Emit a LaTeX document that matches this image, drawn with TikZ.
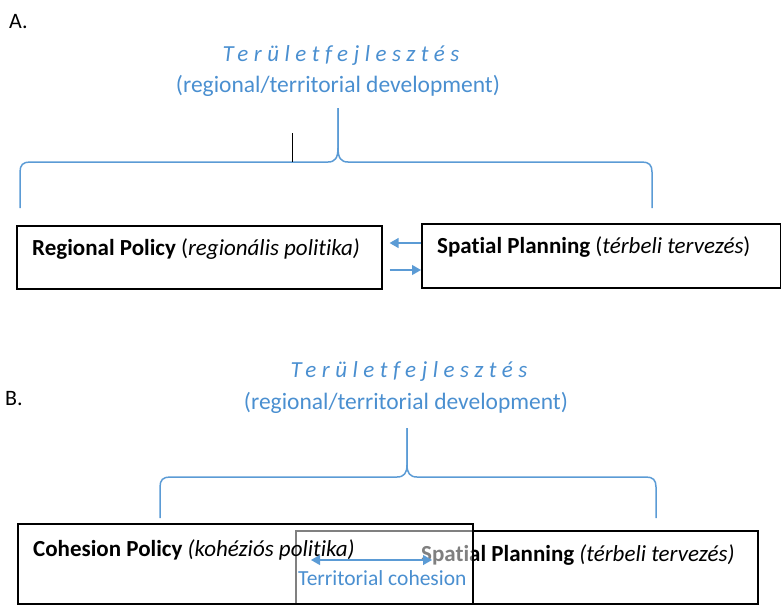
\documentclass[tikz,border=0pt]{standalone}
\usepackage{fontspec}
\setmainfont[Ligatures={NoCommon}]{Carlito}
\usetikzlibrary{arrows.meta}
\definecolor{brblue}{HTML}{5B9BD5}
\definecolor{txblue}{HTML}{4A8FD0}
\begin{document}
\begin{tikzpicture}[x=1pt,y=-1pt,
  every node/.style={font=\fontsize{23}{27}\selectfont, inner sep=0pt},
  boxst/.style={draw=black, line width=1.6pt, rectangle, anchor=north west},
  brace/.style={draw=brblue, line width=1.5pt, line join=round},
  arr/.style={draw=brblue, line width=1.3pt, -{Triangle[length=9pt,width=10pt]}},
  dblarr/.style={draw=brblue, line width=1.3pt, {Triangle[length=9pt,width=10pt]}-{Triangle[length=9pt,width=10pt]}},
  titlest/.style={anchor=base, text=txblue},
  lab/.style={anchor=base west}]
\useasboundingbox (0,0) rectangle (781,605);

% ---------- Part A ----------
\node[lab, font=\fontsize{22}{26}\selectfont] (la) at (9,28) {A.};
\node[titlest] (ta) at (341,61) {\itshape\addfontfeatures{LetterSpace=24}Területfejlesztés};
\node[titlest, font=\fontsize{23.5}{27}\selectfont] (sa) at (338,92) {(regional/territorial development)};

\draw[brace] (20,208) -- (20,172) .. controls (20,165) and (23,162) .. (30,162)
  -- (328,162) .. controls (335,162) and (338,158) .. (338,148) -- (338,108);
\draw[brace] (338,108) -- (338,148) .. controls (338,158) and (341,162) .. (348,162)
  -- (642,162) .. controls (649,162) and (652,165) .. (652,172) -- (652,208);
\draw[black, line width=0.8pt] (292,133) -- (292,162);

\node[boxst, minimum width=365pt, minimum height=63pt] (rp) at (16,225) {};
\node[boxst, minimum width=359pt, minimum height=64pt] (sp) at (421,223) {};
\node[lab] (rpt) at (32,255) {\textbf{Regional Policy} (\textit{regionális politika)}};
\node[lab] (spt) at (437,253) {\textbf{Spatial Planning} (\textit{térbeli tervezés})};

\draw[arr, shorten >=7pt] (sp.west |- 0,243) -- (rp.east |- 0,243);
\draw[arr, shorten <=7pt] (rp.east |- 0,270) -- (sp.west |- 0,270);

% ---------- Part B ----------
\node[lab, font=\fontsize{22}{26}\selectfont] (lb) at (5,405) {B.};
\node[titlest] (tb) at (409,377) {\itshape\addfontfeatures{LetterSpace=24}Területfejlesztés};
\node[titlest, font=\fontsize{23.5}{27}\selectfont] (sb) at (406,409) {(regional/territorial development)};

\draw[brace] (160,518) -- (160,487) .. controls (160,480) and (163,477) .. (170,477)
  -- (397,477) .. controls (404,477) and (407,473) .. (407,465) -- (407,428);
\draw[brace] (407,428) -- (407,465) .. controls (407,473) and (410,477) .. (417,477)
  -- (646,477) .. controls (653,477) and (656,480) .. (656,487) -- (656,518);

\node[boxst, minimum width=462pt, minimum height=73pt] (sp2) at (295,530) {};
\node[lab] (sp2t) at (421,561) {\textbf{Spatial Planning} \textit{(térbeli tervezés)}};
\node[boxst, fill=white, fill opacity=0.5, minimum width=455pt, minimum height=80pt] (cp) at (17,523) {};
\node[lab] (cpt) at (33,556) {\textbf{Cohesion Policy} \textit{(kohéziós politika)}};
\node[lab, text=txblue, font=\fontsize{21.5}{25}\selectfont] (tc) at (298,585) {Territorial cohesion};
\coordinate (tcl) at (311,560);
\coordinate (tcr) at (432,560);
\draw[dblarr] (tcl) -- (tcr);
\end{tikzpicture}
\end{document}
